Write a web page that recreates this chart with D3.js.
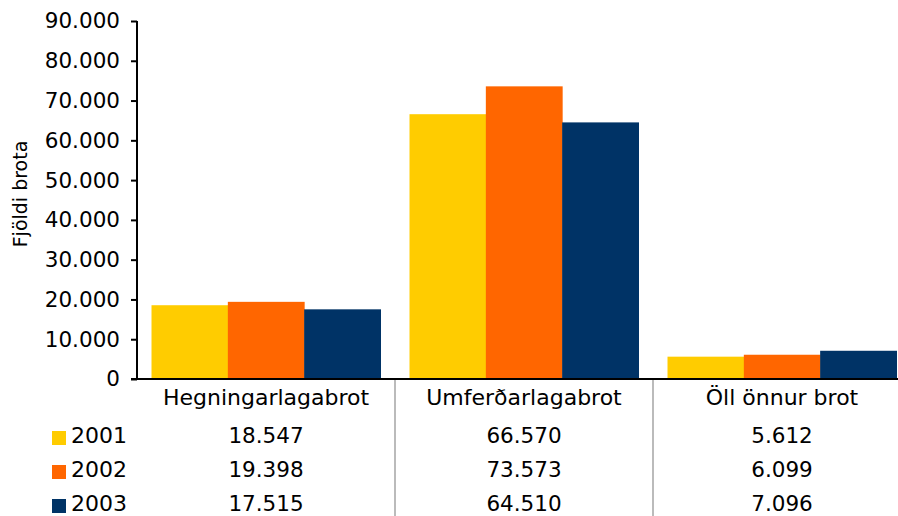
<!DOCTYPE html>
<html>
<head>
<meta charset="utf-8">
<script src="https://cdn.jsdelivr.net/npm/d3@7"></script>
<style>
body { margin: 0; background: #fff; }
svg { display: block; font-family: "DejaVu Sans", Verdana, sans-serif; }
</style>
</head>
<body>
<svg id="chart" width="898" height="516"></svg>
<script>
// data
var categories = ["Hegningarlagabrot", "Umferðarlagabrot", "Öll önnur brot"];
var years = ["2001", "2002", "2003"];
var v2001 = [18547, 66570, 5612];
var v2002 = [19398, 73573, 6099];
var v2003 = [17515, 64510, 7096];
var yTicks = [0, 10000, 20000, 30000, 40000, 50000, 60000, 70000, 80000, 90000];
var colors = ["#FFCC00", "#FF6600", "#003366"];
var series = [v2001, v2002, v2003];

var svg = d3.select("#chart");
var m = {left: 137, right: 911, top: 21, bottom: 379};
var fs = 21.5;
var fmt = function(v) { return d3.format(",")(v).replace(/,/g, "."); };

var x0 = d3.scaleBand().domain(categories).range([m.left, m.right]).paddingInner(0).paddingOuter(0);
var x1 = d3.scaleBand().domain(years).range([0, x0.bandwidth()]).paddingInner(0).paddingOuter(0.19);
var y = d3.scaleLinear().domain([0, 90000]).range([m.bottom, m.top]);

// bars
var groups = svg.append("g").selectAll("g").data(categories).enter().append("g")
	.attr("transform", function(d) { return "translate(" + x0(d) + ",0)"; });
groups.selectAll("rect")
	.data(function(d, i) { return years.map(function(yr, j) { return {year: yr, value: series[j][i], c: colors[j]}; }); })
	.enter().append("rect")
	.attr("x", function(d) { return x1(d.year); })
	.attr("width", x1.bandwidth() + 0.5)
	.attr("y", function(d) { return y(d.value); })
	.attr("height", function(d) { return m.bottom - y(d.value); })
	.attr("fill", function(d) { return d.c; });

// y axis
var yAxis = svg.append("g").attr("transform", "translate(" + m.left + ",0)")
	.call(d3.axisLeft(y).tickValues(yTicks).tickSize(6).tickPadding(11).tickFormat(fmt));
yAxis.select(".domain").attr("stroke", "#000").attr("stroke-width", 2).attr("d", "M0," + m.top + "V" + m.bottom);
yAxis.selectAll(".tick line").attr("stroke", "#000").attr("stroke-width", 2);
yAxis.selectAll("text").attr("font-size", fs).attr("fill", "#000")
	.attr("font-family", "'DejaVu Sans', Verdana, sans-serif");

// x axis line
svg.append("line").attr("x1", m.left - 6).attr("x2", 898).attr("y1", m.bottom).attr("y2", m.bottom)
	.attr("stroke", "#000").attr("stroke-width", 2);

// table separators
categories.slice(1).forEach(function(c) {
	svg.append("line").attr("x1", x0(c)).attr("x2", x0(c)).attr("y1", m.bottom + 1).attr("y2", 516)
		.attr("stroke", "#bbb").attr("stroke-width", 2);
});

// category labels
svg.append("g").selectAll("text").data(categories).enter().append("text")
	.attr("x", function(d) { return x0(d) + x0.bandwidth() / 2; })
	.attr("y", 405)
	.attr("text-anchor", "middle")
	.attr("font-size", 22)
	.text(function(d) { return d; });

// data table rows
var rowY = [443, 477, 511];
years.forEach(function(yr, j) {
	svg.append("rect").attr("x", 52).attr("y", rowY[j] - 12).attr("width", 14).attr("height", 14).attr("fill", colors[j]);
	svg.append("text").attr("x", 71).attr("y", rowY[j]).attr("font-size", 22).text(yr);
	svg.append("g").selectAll("text").data(categories).enter().append("text")
		.attr("x", function(d) { return x0(d) + x0.bandwidth() / 2; })
		.attr("y", rowY[j])
		.attr("text-anchor", "middle")
		.attr("font-size", fs)
		.text(function(d, i) { return fmt(series[j][i]); });
});

// y axis title
svg.append("text")
	.attr("transform", "translate(27,194) rotate(-90)")
	.attr("text-anchor", "middle")
	.attr("font-size", 19)
	.text("Fjöldi brota");
</script>
</body>
</html>
